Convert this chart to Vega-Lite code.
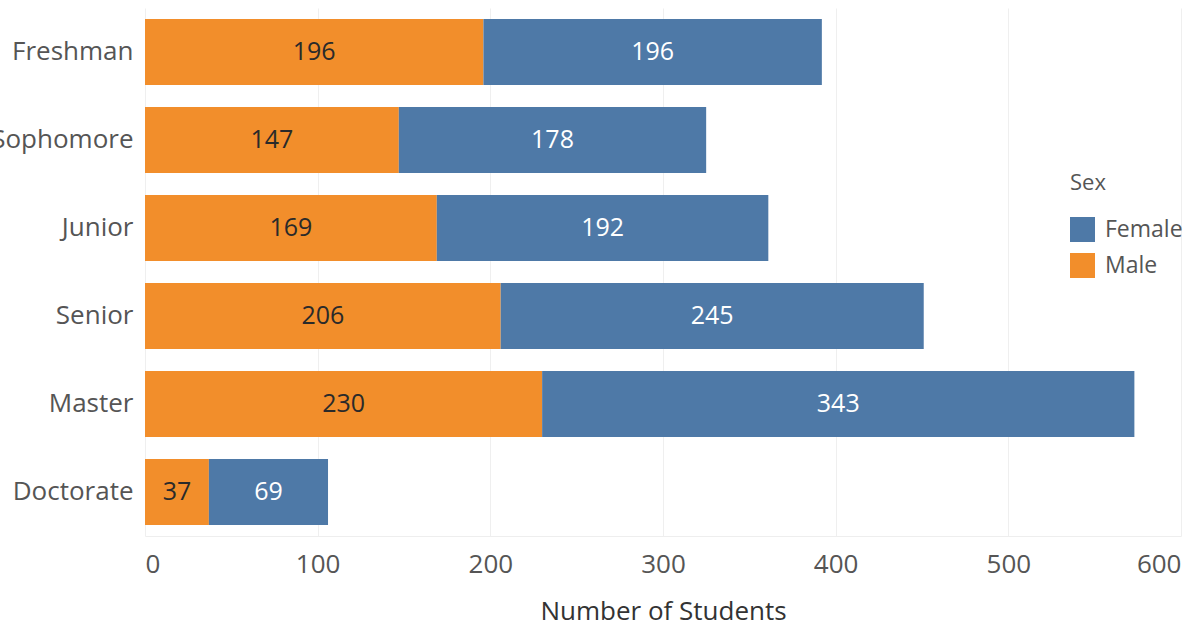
{
  "$schema": "https://vega.github.io/schema/vega-lite/v6.json",
  "width": 1036,
  "height": 528,
  "autosize": {"type": "none"},
  "padding": {"left": 145, "top": 8, "right": 12, "bottom": 90},
  "background": "white",
  "config": {
    "font": "Open Sans",
    "view": {"stroke": null}
  },
  "data": {
    "values": [
      {"Level": "Freshman", "Sex": "Male", "Count": 196},
      {"Level": "Freshman", "Sex": "Female", "Count": 196},
      {"Level": "Sophomore", "Sex": "Male", "Count": 147},
      {"Level": "Sophomore", "Sex": "Female", "Count": 178},
      {"Level": "Junior", "Sex": "Male", "Count": 169},
      {"Level": "Junior", "Sex": "Female", "Count": 192},
      {"Level": "Senior", "Sex": "Male", "Count": 206},
      {"Level": "Senior", "Sex": "Female", "Count": 245},
      {"Level": "Master", "Sex": "Male", "Count": 230},
      {"Level": "Master", "Sex": "Female", "Count": 343},
      {"Level": "Doctorate", "Sex": "Male", "Count": 37},
      {"Level": "Doctorate", "Sex": "Female", "Count": 69}
    ]
  },
  "transform": [
    {"stack": "Count", "groupby": ["Level"], "sort": [{"field": "Sex", "order": "descending"}], "as": ["x0", "x1"]},
    {"calculate": "(datum.x0 + datum.x1) / 2", "as": "xmid"}
  ],
  "encoding": {
    "y": {
      "field": "Level",
      "type": "nominal",
      "sort": ["Freshman", "Sophomore", "Junior", "Senior", "Master", "Doctorate"],
      "scale": {"paddingInner": 0.25, "paddingOuter": 0.125},
      "axis": {
        "title": null,
        "domain": false,
        "ticks": false,
        "labelFontSize": 26,
        "labelColor": "#555555",
        "labelPadding": 12
      }
    }
  },
  "layer": [
    {
      "mark": {"type": "bar"},
      "encoding": {
        "x": {
          "field": "x0",
          "type": "quantitative",
          "scale": {"domain": [0, 600], "nice": false},
          "axis": {
            "title": "Number of Students",
            "titleFontSize": 26,
            "titleFontWeight": "normal",
            "titleColor": "#333333",
            "titlePadding": 21,
            "values": [0, 100, 200, 300, 400, 500, 600],
            "labelFontSize": 26,
            "labelColor": "#555555",
            "labelPadding": 15,
            "ticks": false,
            "domain": true,
            "domainColor": "#eeeeee",
            "gridColor": "#efefef",
            "grid": true
          }
        },
        "x2": {"field": "x1"},
        "color": {
          "field": "Sex",
          "type": "nominal",
          "scale": {"domain": ["Female", "Male"], "range": ["#4E79A7", "#F28E2B"]},
          "legend": {
            "orient": "none",
            "legendX": 925,
            "legendY": 165,
            "title": "Sex",
            "titleFontSize": 22,
            "titleFontWeight": "normal",
            "titleColor": "#555555",
            "titlePadding": 22,
            "symbolType": "square",
            "symbolSize": 625,
            "symbolStrokeWidth": 0,
            "symbolOpacity": 1,
            "labelFontSize": 23,
            "labelColor": "#555555",
            "labelOffset": 10,
            "rowPadding": 11
          }
        }
      }
    },
    {
      "mark": {"type": "text", "fontSize": 25, "align": "center", "baseline": "middle"},
      "encoding": {
        "x": {"field": "xmid", "type": "quantitative"},
        "text": {"field": "Count", "type": "quantitative"},
        "color": {
          "condition": {"test": "datum.Sex === 'Male'", "value": "#2a2a2a"},
          "value": "#ffffff"
        }
      }
    }
  ]
}
